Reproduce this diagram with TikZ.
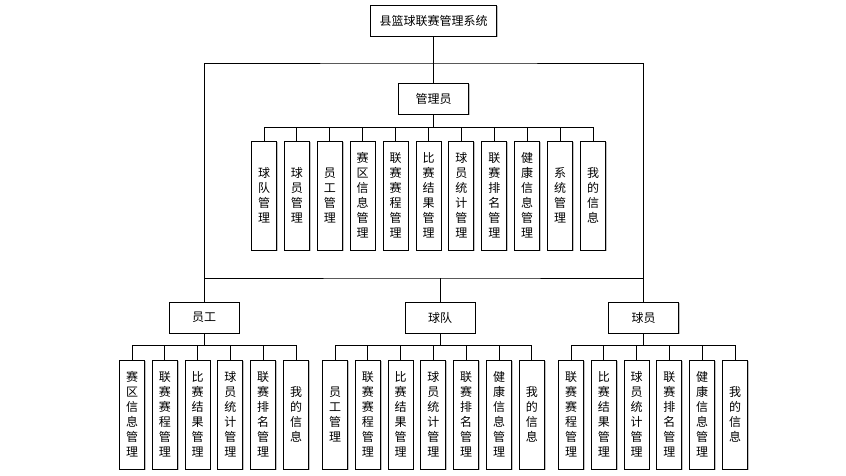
\documentclass[tikz,border=0pt]{standalone}
\usepackage{fontspec}
\newfontfamily\cjk{Noto Sans CJK SC}
\usetikzlibrary{shadows}
\begin{document}
\begin{tikzpicture}[x=1pt,y=-1pt,
  every node/.style={font=\cjk\fontsize{12}{15}\selectfont, inner sep=0pt},
  box/.style={draw, line width=0.9pt, fill=white, align=center,
    drop shadow={shadow xshift=1.2pt, shadow yshift=-1.2pt, fill=black!35, opacity=0.7}},
  hbox/.style={box, minimum width=70pt, minimum height=31pt},
  leaf/.style={box, minimum width=25pt, minimum height=109pt},
  conn/.style={draw, line width=0.9pt}]
\useasboundingbox (0,0) rectangle (846,476);
\node[box, minimum width=126pt, minimum height=31pt] (top) at (433.5,20.5) {县篮球联赛管理系统};
\node[hbox] (mgr) at (433.5,98.5) {管理员};
\node[hbox] (staff) at (204,317.5) {员工};
\node[hbox] (team) at (440,317.5) {球队};
\node[hbox] (player) at (643.5,317.5) {球员};
\coordinate (b1) at (433.5,63);
\coordinate (b2) at (440,278);
% manager leaves
\foreach \t [count=\i from 0] in {球\\队\\管\\理, 球\\员\\管\\理, 员\\工\\管\\理, 赛\\区\\信\\息\\管\\理, 联\\赛\\赛\\程\\管\\理, 比\\赛\\结\\果\\管\\理, 球\\员\\统\\计\\管\\理, 联\\赛\\排\\名\\管\\理, 健\\康\\信\\息\\管\\理, 系\\统\\管\\理, 我\\的\\信\\息}
  \node[leaf] (m\i) at ({264+32.9*\i},195.5) {\t};
\foreach \t [count=\i from 0] in {赛\\区\\信\\息\\管\\理, 联\\赛\\赛\\程\\管\\理, 比\\赛\\结\\果\\管\\理, 球\\员\\统\\计\\管\\理, 联\\赛\\排\\名\\管\\理, 我\\的\\信\\息}
  \node[leaf] (s\i) at ({132+32.8*\i},414.5) {\t};
\foreach \t [count=\i from 0] in {员\\工\\管\\理, 联\\赛\\赛\\程\\管\\理, 比\\赛\\结\\果\\管\\理, 球\\员\\统\\计\\管\\理, 联\\赛\\排\\名\\管\\理, 健\\康\\信\\息\\管\\理, 我\\的\\信\\息}
  \node[leaf] (t\i) at ({335+32.8*\i},414.5) {\t};
\foreach \t [count=\i from 0] in {联\\赛\\赛\\程\\管\\理, 比\\赛\\结\\果\\管\\理, 球\\员\\统\\计\\管\\理, 联\\赛\\排\\名\\管\\理, 健\\康\\信\\息\\管\\理, 我\\的\\信\\息}
  \node[leaf] (p\i) at ({571+32.8*\i},414.5) {\t};
% connectors
\draw[conn] (top.south) -- (mgr.north);
\draw[conn] (staff.north) |- (b1) -| (player.north);
\draw[conn] (staff.north) |- (b2) -| (player.north);
\draw[conn] (b2) -- (team.north);
\foreach \i in {0,...,10} \draw[conn] (mgr.south) -- ++(0,13) -| (m\i.north);
\foreach \i in {0,...,5} \draw[conn] (staff.south) -- ++(0,12) -| (s\i.north);
\foreach \i in {0,...,6} \draw[conn] (team.south) -- ++(0,12) -| (t\i.north);
\foreach \i in {0,...,5} \draw[conn] (player.south) -- ++(0,12) -| (p\i.north);
\end{tikzpicture}
\end{document}
